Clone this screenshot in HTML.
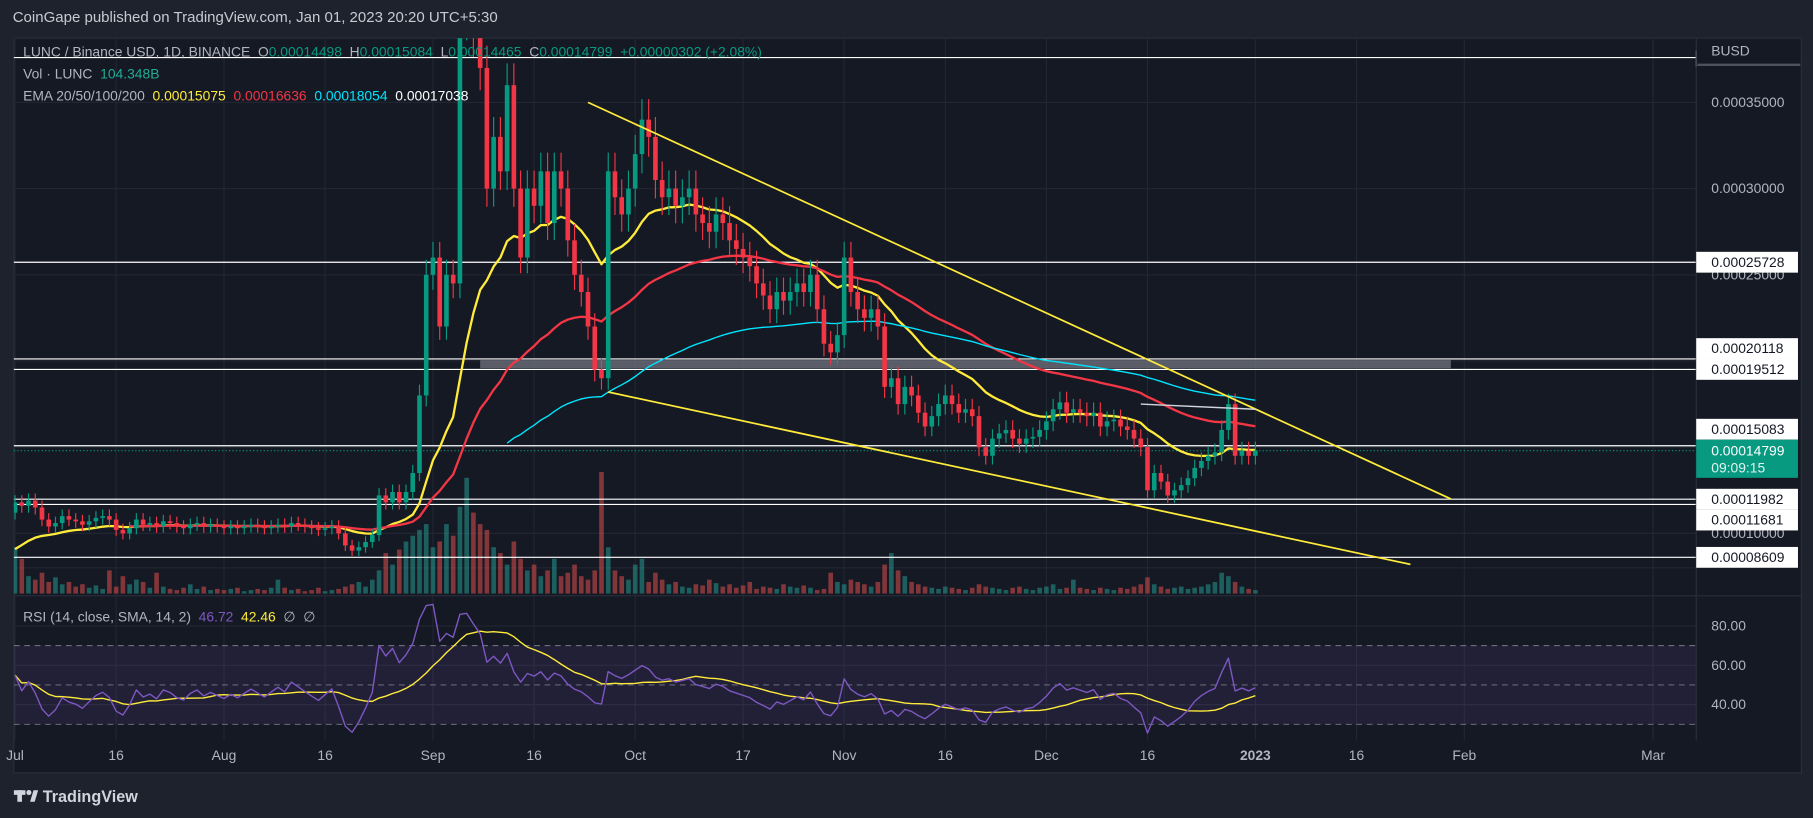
<!DOCTYPE html>
<html><head><meta charset="utf-8"><style>
html,body{margin:0;padding:0;background:#1e222d;}
svg{display:block;font-family:"Liberation Sans",sans-serif;}
text{white-space:pre;}
</style></head><body>
<svg id="chart" width="1813" height="818" viewBox="0 0 1568 707" preserveAspectRatio="none" xmlns="http://www.w3.org/2000/svg">
<rect x="0" y="0" width="1568" height="707" fill="#1e222d"/>
<text x="11" y="19" font-size="13" fill="#c8cad2">CoinGape published on TradingView.com, Jan 01, 2023 20:20 UTC+5:30</text>
<rect x="12" y="33" width="1546" height="635" fill="#151924" stroke="#2a2e39"/>
<defs><clipPath id="mainClip"><rect x="12" y="33" width="1455" height="482"/></clipPath>
<clipPath id="rsiClip"><rect x="12" y="516" width="1455" height="124"/></clipPath></defs>
<g id="grid"></g>
<g id="rsiBg"></g>
<g id="vol" clip-path="url(#mainClip)"></g>
<g id="levels"></g>
<g id="emas" clip-path="url(#mainClip)"></g>
<g id="candles" clip-path="url(#mainClip)"></g>
<g id="trend" clip-path="url(#mainClip)"></g>
<g id="rsi" clip-path="url(#rsiClip)"></g>
<line x1="12" y1="515" x2="1558" y2="515" stroke="#2a2e39"/>
<line x1="1467" y1="33" x2="1467" y2="640" stroke="#2a2e39"/>
<g id="axis"></g>
<g id="time" font-size="12" fill="#b2b5be" text-anchor="middle"></g>
<g font-size="12">
<text x="20" y="49" fill="#b2b5be">LUNC / Binance USD, 1D, BINANCE  O<tspan fill="#089981">0.00014498</tspan>  H<tspan fill="#089981">0.00015084</tspan>  L<tspan fill="#089981">0.00014465</tspan>  C<tspan fill="#089981">0.00014799  +0.00000302 (+2.08%)</tspan></text>
<text x="20" y="68" fill="#b2b5be">Vol · LUNC  <tspan fill="#22ab94">104.348B</tspan></text>
<text x="20" y="87" fill="#b2b5be">EMA 20/50/100/200  <tspan fill="#ffeb3b">0.00015075</tspan>  <tspan fill="#f23645">0.00016636</tspan>  <tspan fill="#00e5ff">0.00018054</tspan>  <tspan fill="#ffffff">0.00017038</tspan></text>
<text x="20" y="537" fill="#b2b5be">RSI (14, close, SMA, 14, 2)  <tspan fill="#7e57c2">46.72</tspan>  <tspan fill="#ffeb3b">42.46</tspan>  ∅  ∅</text>
</g>
<g>
<rect x="12" y="683" width="10" height="4" fill="#d1d4dc"/><rect x="15" y="683" width="4" height="10" fill="#d1d4dc"/><circle cx="25" cy="685" r="2.2" fill="#d1d4dc"/><polygon points="26,693 29,683 33,683 30,693" fill="#d1d4dc"/>
<text x="37" y="693" font-size="14" font-weight="bold" fill="#d1d4dc">TradingView</text>
</g>
</svg>
<script>
// ---- data (prices in units of 1e-4 BUSD), daily from Jul 1 2022 ----
const closes = [
1.18,1.16,1.19,1.15,1.08,1.04,1.06,1.10,1.08,1.07,1.05,1.07,1.09,1.10,1.08,1.02,1.00,1.03,1.08,1.05,1.06,1.04,1.07,1.06,1.04,1.03,1.05,1.06,1.04,1.05,1.04,
1.03,1.04,1.03,1.04,1.05,1.04,1.03,1.04,1.05,1.04,1.06,1.05,1.04,1.03,1.02,1.03,1.04,1.00,0.93,0.90,0.92,0.95,0.99,1.22,1.18,1.24,1.18,1.24,1.35,1.80,2.50,
2.6,2.2,2.5,2.45,4.0,4.1,3.9,3.7,3.0,3.3,3.1,3.6,3.0,2.6,3.0,2.9,3.1,2.8,3.1,3.0,2.7,2.5,2.4,2.2,1.95,1.9,3.1,2.95,2.85,3.0,
3.2,3.4,3.3,3.05,2.95,3.0,2.9,2.95,3.0,2.85,2.8,2.75,2.85,2.8,2.7,2.65,2.6,2.55,2.45,2.38,2.3,2.4,2.35,2.4,2.45,2.4,2.5,2.3,2.1,2.05,2.15,
2.6,2.4,2.3,2.25,2.3,2.2,1.85,1.9,1.75,1.85,1.8,1.7,1.62,1.68,1.75,1.8,1.75,1.7,1.72,1.68,1.5,1.45,1.55,1.58,1.6,1.55,1.52,1.55,1.56,1.6,
1.65,1.72,1.76,1.7,1.72,1.7,1.68,1.7,1.62,1.65,1.66,1.62,1.6,1.55,1.5,1.25,1.35,1.3,1.22,1.25,1.28,1.32,1.38,1.42,1.45,1.47,1.6,1.75,1.45,1.48,1.45,
1.48];
const volumes = [
40,30,15,12,18,10,14,8,10,6,8,5,7,4,20,6,15,8,12,10,5,18,6,4,3,5,8,4,6,3,4,
3,4,5,2,3,4,3,5,12,5,3,4,2,3,5,2,3,4,6,8,10,6,12,20,35,25,38,45,50,55,60,
40,45,60,50,75,100,70,60,55,40,35,25,45,30,20,25,15,20,30,15,18,25,15,12,20,105,40,20,15,12,
25,30,10,18,12,8,10,6,5,8,7,12,9,6,8,5,7,10,4,6,5,4,8,6,5,7,5,3,4,18,10,
8,12,10,8,6,10,25,35,20,15,10,8,6,5,4,6,5,4,3,5,8,6,5,4,3,5,6,4,3,5,
6,8,4,5,12,5,4,3,5,4,3,5,4,6,8,14,8,6,4,5,6,4,5,6,8,10,18,15,10,6,4,
3];
const levelPrices = [3.76,2.5728,2.0118,1.9512,1.5083,1.1982,1.1681,0.8609];
const levelLabels = ["","0.00025728","0.00020118","0.00019512","0.00015083","0.00011982","0.00011681","0.00008609"];
const priceTicks = [3.5,3.0,2.5,2.0,1.5,1.0];
const priceTickLabels = ["0.00035000","0.00030000","0.00025000","0.00020000","0.00015000","0.00010000"];
const timeDays = [0,15,31,46,62,77,92,108,123,138,153,168,184,199,215,243];
const timeLabels = ["Jul","16","Aug","16","Sep","16","Oct","17","Nov","16","Dec","16","2023","16","Feb","Mar"];
const rsiTicks = [80,60,40];
const rsiTickLabels = ["80.00","60.00","40.00"];
const upperTrend = [[85,3.5],[213,1.2]];   // [day, price]
const lowerTrend = [[88,1.82],[207,0.82]];
const supportZone = [69,213,1.9512,2.0118];
const lastPrice = 1.4799;

// ---- axes ----
const X = d => 13 + d*5.83;
const Y = p => 163 - (p-3.0)*149;
const RY = v => 609 - (v-40)*1.7;
const VY0 = 513;
const NS='http://www.w3.org/2000/svg';
function mk(tag, attrs, parent){const e=document.createElementNS(NS,tag);for(const k in attrs)e.setAttribute(k,attrs[k]);parent.appendChild(e);return e;}
const G=id=>document.getElementById(id);

// grid
const grid=G('grid');
timeDays.forEach(d=>{const l=mk('line',{x1:X(d),x2:X(d),y1:33,y2:640,stroke:'#222632'},grid);

});
priceTicks.concat([0.8]).forEach(p=>{const l=mk('line',{x1:12,x2:1467,y1:Y(p),y2:Y(p),stroke:'#222632'},grid);

});
rsiTicks.forEach(v=>{const l=mk('line',{x1:12,x2:1467,y1:RY(v),y2:RY(v),stroke:'#222632'},grid);

});

// rsi background band
const rb=G('rsiBg');
const band=mk('rect',{x:12,y:RY(70),width:1455,height:RY(30)-RY(70),fill:'rgba(126,87,194,0.12)'},rb);


[70,50,30].forEach(v=>{const l=mk('line',{x1:12,x2:1467,y1:RY(v),y2:RY(v),stroke:'#787b86','stroke-dasharray':'5,4','stroke-width':0.8},rb);

});

// volume + candles
const vg=G('vol'), cg=G('candles');
closes.forEach((c,i)=>{
  const o = i===0 ? 1.12 : closes[i-1];
  const up = c>=o;
  const vb=mk('rect',{x:X(i)-2,y:VY0-volumes[i],width:4,height:volumes[i],fill:up?'rgba(38,166,154,0.5)':'rgba(239,83,80,0.5)'},vg);
  
  
  const hi=Math.max(o,c)*1.035, lo=Math.min(o,c)*0.965;
  const col=up?'#089981':'#f23645';
  const w=mk('line',{x1:X(i),x2:X(i),y1:Y(hi),y2:Y(lo),stroke:col,'stroke-width':1},cg);
  
  
  const top=Y(Math.max(o,c)), bot=Y(Math.min(o,c));
  const b=mk('rect',{x:X(i)-2,y:top,width:4,height:Math.max(1,bot-top),fill:col},cg);
  
  
});

// EMAs
function ema(n, seed){const k=2/(n+1);let e=seed;return closes.map(c=>(e=c*k+e*(1-k)));}
function poly(vals, start, color, name, width, parent, yf){
  const pts=vals.map((v,i)=>i>=start?X(i).toFixed(1)+','+yf(v).toFixed(1):null).filter(Boolean).join(' ');
  const p=mk('polyline',{points:pts,fill:'none',stroke:color,'stroke-width':width,'stroke-linejoin':'round'},parent);
  
  
}
const eg=G('emas');
poly(ema(20,0.88),0,'#ffeb3b','ema-20-line',2,eg,Y);
poly(ema(50,1.0),17,'#f23645','ema-50-line',2,eg,Y);
poly(ema(100,0.9),73,'#00e5ff','ema-100-line',1.2,eg,Y);

// levels
const lg=G('levels');
levelPrices.forEach(p=>{const l=mk('line',{x1:12,x2:1467,y1:Y(p),y2:Y(p),stroke:'#ffffff','stroke-width':1},lg);

});
const z=mk('rect',{x:X(supportZone[0]),width:X(supportZone[1])-X(supportZone[0]),y:Y(supportZone[3])+1,height:Y(supportZone[2])-Y(supportZone[3])-2,fill:'rgba(120,123,134,0.7)'},lg);


const tk=mk('line',{x1:1467,x2:1467,y1:Y(levelPrices[0])-6,y2:Y(levelPrices[0])+8,stroke:'#fff'},lg);


const dl=mk('line',{x1:12,x2:1467,y1:Y(lastPrice),y2:Y(lastPrice),stroke:'#089981','stroke-dasharray':'1,2'},lg);



// trendlines
const tg=G('trend');
[upperTrend,lowerTrend].forEach((t,k)=>{const l=mk('line',{x1:X(t[0][0]),y1:Y(t[0][1]),x2:X(t[1][0]),y2:Y(t[1][1]),stroke:'#ffeb3b','stroke-width':1.5},tg);

});
const sl=mk('line',{x1:X(167),y1:Y(1.75),x2:X(184),y2:Y(1.72),stroke:'#d1d4dc','stroke-width':1.2},tg);



// RSI
const rsiVals=[];{let ag=0.012,al=0.012;rsiVals.push(55);
for(let i=1;i<closes.length;i++){const d=closes[i]-closes[i-1];ag=(ag*13+Math.max(d,0))/14;al=(al*13+Math.max(-d,0))/14;rsiVals.push(100-100/(1+ag/al));}}
const rsiSma=rsiVals.map((v,i)=>{const s=rsiVals.slice(Math.max(0,i-13),i+1);return s.reduce((a,b)=>a+b,0)/s.length;});
const rg=G('rsi');
poly(rsiSma,0,'#ffeb3b','rsi-sma-line',1.2,rg,RY);
poly(rsiVals,0,'#7e57c2','rsi-line',1.2,rg,RY);

// price axis
const ax=G('axis');
const bl=mk('text',{x:1480,y:48,'font-size':12,fill:'#b2b5be'},ax);bl.textContent='BUSD';


const bu=mk('rect',{x:1468,y:55,width:89,height:2,fill:'#50535e'},ax);


priceTicks.forEach((p,i)=>{const t=mk('text',{x:1480,y:Y(p)+4,'font-size':12,fill:'#b2b5be'},ax);t.textContent=priceTickLabels[i];

});
rsiTicks.forEach((v,i)=>{const t=mk('text',{x:1480,y:RY(v)+4,'font-size':12,fill:'#b2b5be'},ax);t.textContent=rsiTickLabels[i];

});

// stacked axis tags (resolve collisions like TradingView)
const tags=[];
levelPrices.forEach((p,i)=>{if(levelLabels[i])tags.push({y:Y(p),h:18,label:levelLabels[i]});});
tags.push({y:Y(lastPrice)+7,h:33,last:true});
tags.sort((a,b)=>a.y-b.y);
// push neighbours apart around the last-price tag
const li=tags.findIndex(t=>t.last);
for(let i=li-1;i>=0;i--){const lim=tags[i+1].y-tags[i+1].h/2-tags[i].h/2;if(tags[i].y>lim)tags[i].y=lim;}
for(let i=li+1;i<tags.length;i++){const lim=tags[i-1].y+tags[i-1].h/2+tags[i].h/2;if(tags[i].y<lim)tags[i].y=lim;}
tags.forEach(t=>{
  if(t.last){
    const gr=mk('rect',{x:1467,y:t.y-t.h/2,width:88,height:t.h,fill:'#089981'},ax);
    
    
    const g1=mk('text',{x:1480,y:t.y-3,'font-size':12,fill:'#ffffff'},ax);g1.textContent='0.00014799';
    
    
    const g2=mk('text',{x:1480,y:t.y+12,'font-size':12,fill:'#e0f2ef'},ax);g2.textContent='09:09:15';
    
    
  } else {
    const r=mk('rect',{x:1467,y:t.y-9,width:88,height:18,fill:'#ffffff'},ax);
    
    
    const tx=mk('text',{x:1480,y:t.y+4,'font-size':12,fill:'#131722'},ax);tx.textContent=t.label;
    
    
  }
});

// time axis
const tm=G('time');
timeDays.forEach((d,i)=>{const t=mk('text',{x:X(d),y:657},tm);t.textContent=timeLabels[i];
if(timeLabels[i]==='2023')t.setAttribute('font-weight','bold');

});
</script>
</body></html>
